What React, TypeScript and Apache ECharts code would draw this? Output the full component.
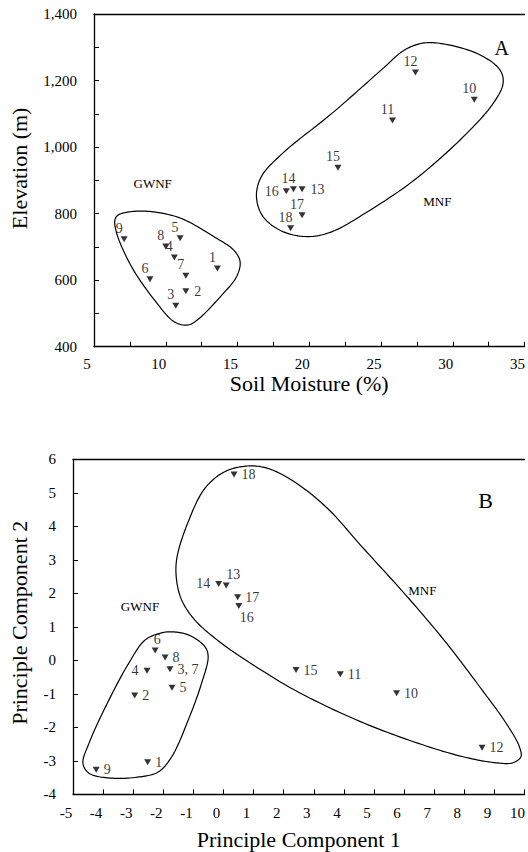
import React, { useEffect, useRef } from "react";
import * as echarts from "echarts";

// ---------- Panel A data ----------
const sitesA = ["1", "2", "3", "4", "5", "6", "7", "8", "9", "10", "11", "12", "13", "14", "15", "16", "17", "18"];
const moistureA = [13.6, 11.4, 10.7, 10.6, 11.0, 8.9, 11.4, 10.0, 7.1, 31.5, 25.8, 27.4, 19.5, 18.9, 22.0, 18.4, 19.5, 18.7];
const elevationA = [635, 567, 523, 668, 726, 603, 613, 701, 723, 1142, 1080, 1224, 873, 873, 938, 867, 795, 756];
const labelPosA = ["top", "right", "top", "top", "top", "top", "top", "top", "top", "top", "top", "top", "right", "top", "top", "left", "top", "top"];

// ---------- Panel B data ----------
const sitesB = ["1", "2", "3, 7", "4", "5", "6", "8", "9", "10", "11", "12", "13", "14", "15", "16", "17", "18"];
const pc1B = [-2.52, -2.95, -1.78, -2.54, -1.71, -2.27, -1.94, -4.23, 5.75, 3.88, 8.59, 0.09, -0.16, 2.41, 0.51, 0.47, 0.35];
const pc2B = [-3.04, -1.05, -0.27, -0.31, -0.82, 0.29, 0.08, -3.27, -0.98, -0.42, -2.61, 2.23, 2.28, -0.29, 1.62, 1.88, 5.55];
const labelPosB = ["right", "right", "right", "left", "right", "top", "right", "right", "right", "right", "right", "topRight", "left", "right", "bottomRight", "right", "right"];

// ---------- Group outlines (data coordinates) ----------
const hullA_GWNF = [[6.69, 796], [7.61, 806], [8.99, 806], [11.05, 786], [13.34, 731], [14.72, 691], [15.18, 656], [14.94, 611], [13.8, 550], [12.19, 480], [11.51, 465], [10.59, 475], [9.22, 540], [7.61, 641], [6.58, 741], [6.46, 781]];
const hullA_MNF = [[28.01, 1313], [29.62, 1308], [31.91, 1277], [33.29, 1232], [33.51, 1192], [32.83, 1132], [30.76, 1032], [27.32, 901], [23.89, 801], [21.6, 746], [19.99, 731], [18.16, 746], [16.78, 791], [16.32, 851], [16.66, 911], [18.16, 982], [21.6, 1102], [25.03, 1232], [26.64, 1292]];
const hullB_GWNF = [[-2.05, 0.82], [-2.6, 0.61], [-3.15, -0.09], [-3.92, -1.39], [-4.47, -2.48], [-4.67, -3.07], [-4.47, -3.37], [-3.7, -3.52], [-2.71, -3.47], [-2.16, -3.33], [-1.72, -2.88], [-1.17, -1.78], [-0.73, -0.69], [-0.51, 0.11], [-0.62, 0.41], [-1.17, 0.76], [-1.72, 0.85]];
const hullB_MNF = [[0.81, 5.8], [1.47, 5.73], [2.35, 5.33], [3.45, 4.54], [4.55, 3.44], [6.2, 1.8], [7.41, 0.51], [8.51, -0.79], [9.39, -1.88], [9.83, -2.58], [9.88, -2.88], [9.61, -3.06], [9.06, -3.06], [7.96, -2.88], [6.31, -2.43], [4.55, -1.83], [2.57, -0.99], [1.25, -0.29], [-0.07, 0.51], [-0.95, 1.2], [-1.39, 1.8], [-1.56, 2.4], [-1.55, 3.05], [-1.17, 4.14], [-0.62, 5.13], [0.04, 5.63]];

// ---------- Axis ranges ----------
const xRangeA = [5, 35];
const yRangeA = [400, 1400];
const xRangeB = [-5, 10];
const yRangeB = [-4, 6];

const FONT = "Liberation Serif";

function labelCfg(pos: string, panel: "A" | "B") {
  const base: any = { show: true, color: "#000", fontFamily: FONT, fontSize: 14 };
  if (panel === "A") {
    if (pos === "top") return { ...base, position: "top", distance: 1, offset: [-5, 0] };
    if (pos === "right") return { ...base, position: "right", distance: 5 };
    if (pos === "left") return { ...base, position: "left", distance: 4 };
  }
  if (pos === "right") return { ...base, position: "right", distance: 4 };
  if (pos === "left") return { ...base, position: "left", distance: 5 };
  if (pos === "top") return { ...base, position: "top", distance: 1, offset: [2, 0] };
  if (pos === "topRight") return { ...base, position: "top", distance: 1, offset: [7, 0] };
  if (pos === "bottomRight") return { ...base, position: "bottom", distance: 1, offset: [8, 0] };
  return base;
}

// closed centripetal Catmull-Rom through pixel points
function closedSpline(pts: number[][], steps = 12): number[][] {
  const n = pts.length;
  const out: number[][] = [];
  const alpha = 0.5;
  for (let i = 0; i < n; i++) {
    const p0 = pts[(i - 1 + n) % n], p1 = pts[i], p2 = pts[(i + 1) % n], p3 = pts[(i + 2) % n];
    const d = (a: number[], b: number[]) => Math.max(Math.pow(Math.hypot(b[0] - a[0], b[1] - a[1]), alpha), 1e-4);
    const t0 = 0, t1 = t0 + d(p0, p1), t2 = t1 + d(p1, p2), t3 = t2 + d(p2, p3);
    for (let s = 0; s < steps; s++) {
      const t = t1 + ((t2 - t1) * s) / steps;
      const lerp = (a: number[], b: number[], ta: number, tb: number) => {
        const w = (t - ta) / (tb - ta);
        return [a[0] * (1 - w) + b[0] * w, a[1] * (1 - w) + b[1] * w];
      };
      const A1 = lerp(p0, p1, t0, t1), A2 = lerp(p1, p2, t1, t2), A3 = lerp(p2, p3, t2, t3);
      const B1 = lerp(A1, A2, t0, t2), B2 = lerp(A2, A3, t1, t3);
      out.push(lerp(B1, B2, t1, t2));
    }
  }
  return out;
}

function hullSeries(hull: number[][], axisIdx: number, yIdx: number) {
  return {
    type: "custom",
    xAxisIndex: axisIdx,
    yAxisIndex: yIdx,
    silent: true,
    clip: false,
    data: [hull[0]],
    encode: { x: 0, y: 1 },
    renderItem: (_params: any, api: any) => {
      const pts = closedSpline(hull.map((p) => api.coord(p)));
      return {
        type: "polygon",
        shape: { points: pts },
        style: { fill: "none", stroke: "#000", lineWidth: 1.2 },
      };
    },
  };
}

const axisLineStyle = { onZero: false, lineStyle: { color: "#000", width: 1.3 } };

export default function App() {
  const ref = useRef<HTMLDivElement>(null);
  useEffect(() => {
    if (!ref.current) return;
    const chart = echarts.init(ref.current, undefined, { renderer: "svg" });
    const tickLabel = { color: "#000", fontFamily: FONT, fontSize: 15 };
    const nameStyle = { color: "#000", fontFamily: FONT, fontSize: 22 };
    const option: any = {
      animation: false,
      backgroundColor: "#fff",
      grid: [
        { left: 89, top: 14, width: 436.5, height: 332.7 },
        { left: 70.7, top: 459.3, width: 454.5, height: 335 },
      ],
      xAxis: [
        {
          gridIndex: 0, type: "value", min: xRangeA[0], max: xRangeA[1], interval: 2.5,
          axisLine: axisLineStyle, axisTick: { inside: true, length: 5, lineStyle: { color: "#000" } },
          splitLine: { show: false },
          axisLabel: { ...tickLabel, margin: 10, padding: [0, 14, 0, 0], formatter: (v: number) => (v % 5 === 0 ? String(v) : "") },
          name: "Soil Moisture (%)", nameLocation: "middle", nameGap: 24, nameTextStyle: nameStyle,
        },
        {
          gridIndex: 0, type: "value", position: "top", min: xRangeA[0], max: xRangeA[1],
          axisLine: axisLineStyle, axisTick: { show: false }, axisLabel: { show: false }, splitLine: { show: false },
        },
        {
          gridIndex: 1, type: "value", min: xRangeB[0], max: xRangeB[1], interval: 1,
          axisLine: axisLineStyle, axisTick: { inside: true, length: 5, lineStyle: { color: "#000" } },
          splitLine: { show: false },
          axisLabel: { ...tickLabel, margin: 11, padding: [0, 14, 0, 0] },
          name: "Principle Component 1", nameLocation: "middle", nameGap: 34, nameTextStyle: nameStyle,
        },
        {
          gridIndex: 1, type: "value", position: "top", min: xRangeB[0], max: xRangeB[1],
          axisLine: axisLineStyle, axisTick: { show: false }, axisLabel: { show: false }, splitLine: { show: false },
        },
      ],
      yAxis: [
        {
          gridIndex: 0, type: "value", min: yRangeA[0], max: yRangeA[1], interval: 100,
          axisLine: axisLineStyle, axisTick: { inside: true, length: 5, lineStyle: { color: "#000" } },
          splitLine: { show: false },
          axisLabel: { ...tickLabel, margin: 17, formatter: (v: number) => (v % 200 === 0 ? v.toLocaleString("en-US") : "") },
          name: "Elevation (m)", nameLocation: "middle", nameGap: 64, nameTextStyle: { ...nameStyle, padding: [0, 0, 0, 24] },
        },
        {
          gridIndex: 1, type: "value", min: yRangeB[0], max: yRangeB[1], interval: 1,
          axisLine: axisLineStyle, axisTick: { inside: true, length: 5, lineStyle: { color: "#000" } },
          splitLine: { show: false },
          axisLabel: { ...tickLabel, margin: 17 },
          name: "Principle Component 2", nameLocation: "middle", nameGap: 43, nameTextStyle: { ...nameStyle, padding: [0, 0, 0, 8] },
        },
      ],
      graphic: [
        { type: "text", x: 501.7, y: 48.3, style: { text: "A", font: `20px "${FONT}"`, fill: "#000", align: "center", verticalAlign: "middle" } },
        { type: "text", x: 485.7, y: 500, style: { text: "B", font: `22px "${FONT}"`, fill: "#000", align: "center", verticalAlign: "middle" } },
        { type: "text", x: 152.7, y: 183.3, style: { text: "GWNF", font: `13px "${FONT}"`, fill: "#000", align: "center", verticalAlign: "middle" } },
        { type: "text", x: 437.3, y: 201.7, style: { text: "MNF", font: `13px "${FONT}"`, fill: "#000", align: "center", verticalAlign: "middle" } },
        { type: "text", x: 140, y: 606.7, style: { text: "GWNF", font: `13px "${FONT}"`, fill: "#000", align: "center", verticalAlign: "middle" } },
        { type: "text", x: 422.3, y: 590.7, style: { text: "MNF", font: `13px "${FONT}"`, fill: "#000", align: "center", verticalAlign: "middle" } },
      ],
      series: [
        hullSeries(hullA_GWNF, 0, 0),
        hullSeries(hullA_MNF, 0, 0),
        hullSeries(hullB_GWNF, 2, 1),
        hullSeries(hullB_MNF, 2, 1),
        {
          type: "scatter", xAxisIndex: 0, yAxisIndex: 0,
          symbol: "triangle", symbolRotate: 180, symbolSize: [7, 6],
          itemStyle: { color: "#000" },
          label: { color: "#000" },
          data: sitesA.map((s, i) => ({ name: s, value: [moistureA[i], elevationA[i]], label: { ...labelCfg(labelPosA[i], "A"), formatter: s } })),
        },
        {
          type: "scatter", xAxisIndex: 2, yAxisIndex: 1,
          symbol: "triangle", symbolRotate: 180, symbolSize: [7, 6],
          itemStyle: { color: "#000" },
          label: { color: "#000" },
          data: sitesB.map((s, i) => ({ name: s, value: [pc1B[i], pc2B[i]], label: { ...labelCfg(labelPosB[i], "B"), formatter: s } })),
        },
      ],
    };
    chart.setOption(option);
    return () => chart.dispose();
  }, []);
  return <div ref={ref} style={{ position: "fixed", left: 0, top: 0, width: 528, height: 852, background: "#fff" }} />;
}
